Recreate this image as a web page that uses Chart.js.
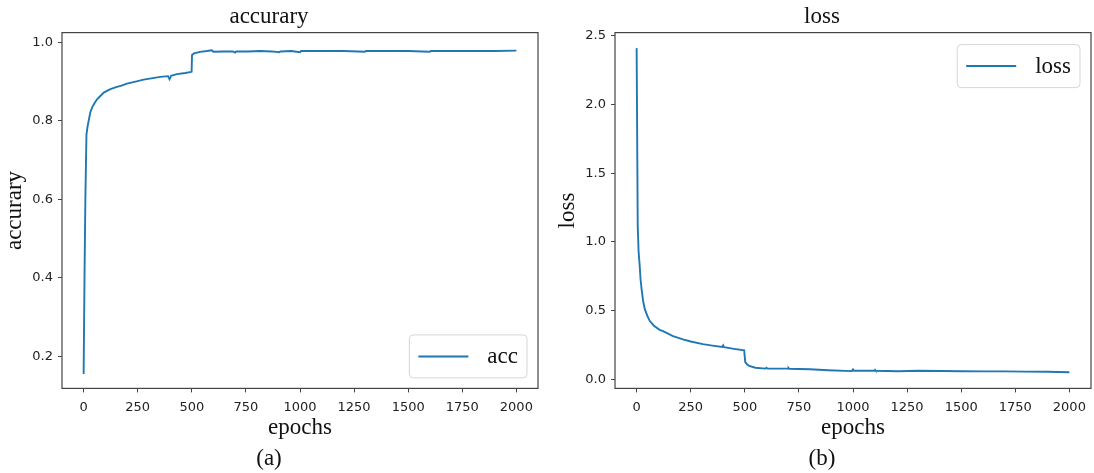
<!DOCTYPE html>
<html>
<head>
<meta charset="utf-8">
<script src="https://cdn.jsdelivr.net/npm/chart.js@4.4.0/dist/chart.umd.min.js"></script>
<style>
  html, body { margin: 0; padding: 0; background: #fff; }
  body { width: 1094px; height: 473px; position: relative; overflow: hidden; }
  .panel { position: absolute; top: 0; }
</style>
</head>
<body>
<div class="panel" style="left:0"><canvas id="accChart" width="547" height="473"></canvas></div>
<div class="panel" style="left:553px"><canvas id="lossChart" width="541" height="473"></canvas></div>
<script>
// values
const accEpochs = [0, 4, 8, 13, 18, 25, 31, 40, 50, 62, 75, 93, 110, 124, 150, 175, 200, 240, 277, 320, 354, 390, 397, 404, 431, 470, 499, 501, 510, 538, 570, 592, 600, 650, 690, 700, 705, 760, 815, 870, 903, 910, 960, 1000, 1005, 1100, 1200, 1300, 1305, 1400, 1500, 1600, 1605, 1700, 1800, 1900, 2000];
const accValues = [0.155, 0.40, 0.60, 0.765, 0.785, 0.805, 0.822, 0.835, 0.845, 0.855, 0.862, 0.872, 0.877, 0.881, 0.886, 0.890, 0.895, 0.900, 0.905, 0.909, 0.912, 0.914, 0.906, 0.915, 0.919, 0.922, 0.925, 0.968, 0.972, 0.976, 0.978, 0.980, 0.976, 0.977, 0.977, 0.974, 0.977, 0.977, 0.978, 0.977, 0.975, 0.977, 0.978, 0.975, 0.978, 0.978, 0.978, 0.976, 0.978, 0.978, 0.978, 0.976, 0.978, 0.978, 0.978, 0.978, 0.979];

const lossEpochs = [0, 5, 9, 14, 18, 23, 30, 38, 50, 61, 80, 106, 122, 168, 214, 250, 306, 350, 396, 400, 404, 450, 497, 502, 510, 520, 549, 595, 600, 605, 700, 702, 705, 801, 885, 995, 1000, 1005, 1100, 1102, 1105, 1210, 1300, 1410, 1500, 1610, 1700, 1794, 1900, 2000];
const lossValues = [2.41, 1.12, 0.93, 0.83, 0.73, 0.654, 0.57, 0.509, 0.46, 0.424, 0.39, 0.36, 0.351, 0.315, 0.291, 0.275, 0.256, 0.245, 0.235, 0.247, 0.234, 0.222, 0.211, 0.125, 0.11, 0.097, 0.084, 0.078, 0.085, 0.078, 0.078, 0.083, 0.077, 0.073, 0.066, 0.060, 0.072, 0.062, 0.063, 0.068, 0.062, 0.059, 0.062, 0.061, 0.059, 0.058, 0.058, 0.056, 0.055, 0.052];

const xTicks = [0, 250, 500, 750, 1000, 1250, 1500, 1750, 2000];
const accTicks = [0.2, 0.4, 0.6, 0.8, 1.0];
const lossTicks = [0.0, 0.5, 1.0, 1.5, 2.0, 2.5];

const lineColor = '#1f77b4';
const serif = '"Liberation Serif", "Times New Roman", serif';
const sans = '"DejaVu Sans", sans-serif';

// box around the plot area
const frame = {
    id: 'frame',
    afterDraw(chart) {
        const { ctx, chartArea: a } = chart;
        ctx.save();
        ctx.strokeStyle = '#444';
        ctx.lineWidth = 1.2;
        ctx.strokeRect(a.left, a.top, a.right - a.left, a.bottom - a.top);
        ctx.restore();
    }
};

// legend drawn inside the plot, matplotlib style
const innerLegend = {
    id: 'innerLegend',
    afterDatasetsDraw(chart, args, opts) {
        const { ctx, chartArea: a } = chart;
        const ds = chart.data.datasets[0];
        ctx.save();
        ctx.font = '23px ' + serif;
        const tw = ctx.measureText(ds.label).width;
        const w = 9 + 50 + 19 + tw + 9, h = 43;
        const x = a.right - 11 - w;
        const y = opts.corner === 'top' ? a.top + 12 : a.bottom - 10.5 - h;
        ctx.beginPath();
        ctx.roundRect(x, y, w, h, 4);
        ctx.fillStyle = 'rgba(255,255,255,0.8)';
        ctx.fill();
        ctx.strokeStyle = 'rgba(204,204,204,0.8)';
        ctx.lineWidth = 1;
        ctx.stroke();
        ctx.beginPath();
        ctx.moveTo(x + 9, y + h / 2);
        ctx.lineTo(x + 9 + 50, y + h / 2);
        ctx.strokeStyle = ds.borderColor;
        ctx.lineWidth = 2;
        ctx.stroke();
        ctx.fillStyle = '#111';
        ctx.textBaseline = 'middle';
        ctx.fillText(ds.label, x + 9 + 50 + 19, y + h / 2 + 1);
        ctx.restore();
    }
};

function makeChart(id, opts) {
    const data = opts.epochs.map((e, i) => ({ x: e, y: opts.values[i] }));
    return new Chart(document.getElementById(id), {
        type: 'line',
        data: {
            datasets: [{
                label: opts.label,
                data: data,
                borderColor: lineColor,
                borderWidth: 1.9,
                pointRadius: 0,
                tension: 0,
                fill: false
            }]
        },
        plugins: [frame, innerLegend],
        options: {
            responsive: false,
            animation: false,
            events: [],
            layout: { padding: { left: 0, right: opts.padRight, top: 0, bottom: 0 } },
            plugins: {
                legend: { display: false },
                tooltip: { enabled: false },
                innerLegend: { corner: opts.corner },
                title: {
                    display: true,
                    text: opts.title,
                    color: '#111',
                    font: { family: serif, size: 23, weight: 'normal' },
                    padding: { top: 3, bottom: 2 }
                },
                subtitle: {
                    display: true,
                    text: opts.caption,
                    position: 'bottom',
                    color: '#111',
                    font: { family: serif, size: 23, weight: 'normal' },
                    padding: { top: 0, bottom: 0 }
                }
            },
            scales: {
                x: {
                    type: 'linear',
                    min: -100,
                    max: 2100,
                    afterBuildTicks: s => { s.ticks = xTicks.map(v => ({ value: v })); },
                    afterFit: s => { s.height = 57; },
                    border: { display: false },
                    grid: { drawOnChartArea: false, color: '#444', tickLength: 4 },
                    ticks: {
                        autoSkip: false, maxRotation: 0, padding: 7,
                        color: '#222', font: { family: sans, size: 13 },
                        callback: v => String(v)
                    },
                    title: {
                        display: true, text: 'epochs', color: '#111',
                        font: { family: serif, size: 23, weight: 'normal' },
                        padding: { top: 0, bottom: 3.5 }
                    }
                },
                y: {
                    type: 'linear',
                    min: opts.yMin,
                    max: opts.yMax,
                    afterBuildTicks: s => { s.ticks = opts.yTicks.map(v => ({ value: v })); },
                    afterFit: s => { s.width = 62; },
                    border: { display: false },
                    grid: { drawOnChartArea: false, color: '#444', tickLength: 4 },
                    ticks: {
                        padding: 5, color: '#222', font: { family: sans, size: 13 },
                        callback: v => v.toFixed(1)
                    },
                    title: {
                        display: true, text: opts.yTitle, color: '#111',
                        font: { family: serif, size: 23, weight: 'normal' },
                        padding: { top: 1.5, bottom: 0 }
                    }
                }
            }
        }
    });
}

makeChart('accChart', {
    epochs: accEpochs, values: accValues, label: 'acc', corner: 'bottom',
    title: 'accurary', yTitle: 'accurary', caption: '(a)',
    yMin: 0.118, yMax: 1.025, yTicks: accTicks, padRight: 9
});

makeChart('lossChart', {
    epochs: lossEpochs, values: lossValues, label: 'loss', corner: 'top',
    title: 'loss', yTitle: 'loss', caption: '(b)',
    yMin: -0.066, yMax: 2.523, yTicks: lossTicks, padRight: 3
});
</script>
</body>
</html>
